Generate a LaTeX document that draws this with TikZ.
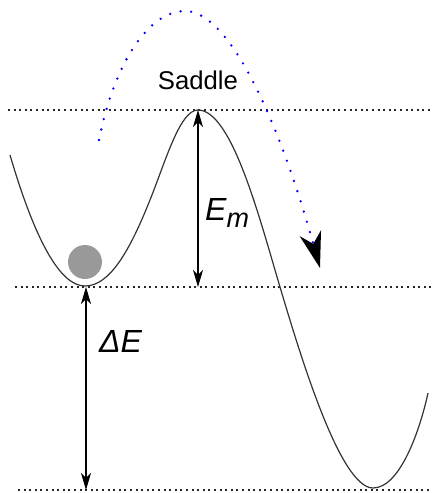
\documentclass[tikz,border=0pt]{standalone}
\usepackage{fontspec}
\setmainfont{Liberation Sans}
\usepackage{tikz}
\usetikzlibrary{arrows.meta, positioning}

\begin{document}
\begin{tikzpicture}[
    x=1pt, y=-1pt,
    level/.style={draw=black!85, line width=2pt, dash pattern=on 2pt off 3.6pt},
    energy/.style={draw=black!80, line width=1.2pt},
    gap/.style={draw, line width=1.1pt, {Stealth[length=17pt, width=10pt, inset=5pt]}-{Stealth[length=17pt, width=10pt, inset=5pt]}},
    hop/.style={draw=blue, line width=2.6pt, line cap=round, dash pattern=on 0pt off 10.7pt, -{Stealth[black, length=36pt, width=22pt, inset=11pt]}},
    lbl/.style={inner sep=0pt, font=\fontsize{32}{36}\selectfont\itshape}
]
\useasboundingbox (0,0) rectangle (432,493);

% energy levels
\draw[level] (8,110) -- (432,110);
\draw[level] (15,287) -- (432,287);
\draw[level] (18,490) -- (432,490);

% potential
\draw[energy] (10,155) .. controls (35,240) and (60,286) .. (85,286)
    .. controls (110,286) and (130,250) .. (150,200)
    .. controls (166,160) and (180,110) .. (198,110)
    .. controls (232,110) and (260,220) .. (280,287)
    .. controls (300,354) and (340,488) .. (373,488)
    .. controls (400,488) and (420,430) .. (428,393);

\node[circle, fill=black!40, minimum size=34pt, inner sep=0pt] (ball) at (85,262) {};

\coordinate (saddle) at (198,110);
\coordinate (emfoot) at (198,287);
\coordinate (well) at (86,287);
\coordinate (floor) at (86,490);

\draw[gap] (saddle) -- (emfoot);
\draw[gap] (well) -- (floor);

\node[lbl, anchor=base west] (em) at (205,220) {E\raisebox{-7pt}{\fontsize{27}{30}\selectfont m}};
\node[lbl, anchor=base west] (de) at (99,352) {ΔE};
\node[inner sep=0pt, anchor=base, font=\fontsize{25.7}{30}\selectfont] (sad) at (198,89) {Saddle};

% escape path
\draw[hop] (99,140) .. controls (115,60) and (150,11) .. (185,11)
    .. controls (230,11) and (280,124) .. (320,268);
\end{tikzpicture}
\end{document}
